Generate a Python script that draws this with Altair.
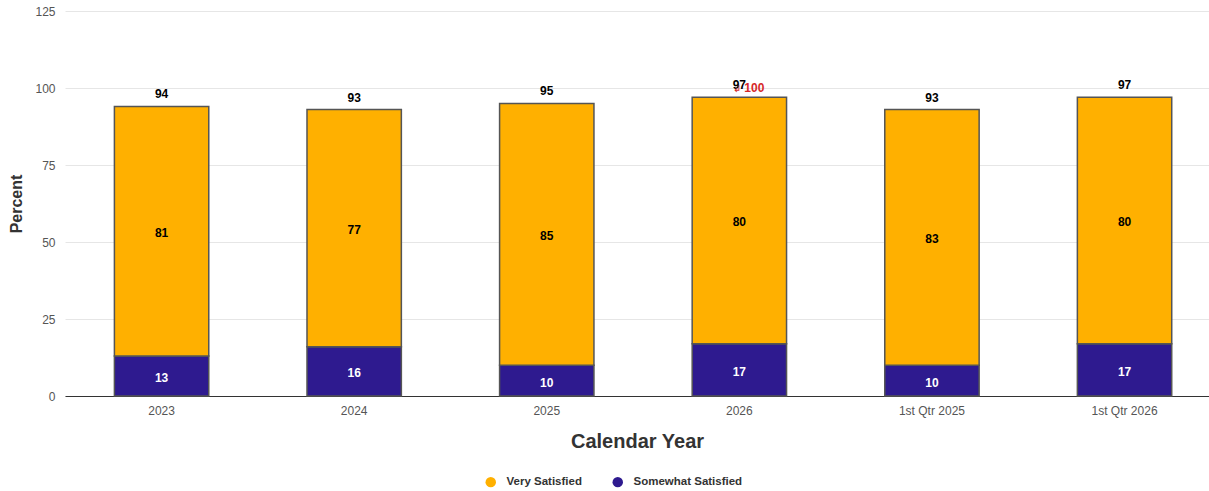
import altair as alt
import pandas as pd

categories = ["2023", "2024", "2025", "2026", "1st Qtr 2025", "1st Qtr 2026"]
very_satisfied = [81, 77, 85, 80, 83, 80]
somewhat_satisfied = [13, 16, 10, 17, 10, 17]
series_names = ["Very Satisfied", "Somewhat Satisfied"]
series_colors = ["#FFB000", "#2E1A8F"]
target_category = ["2026"]
target_value = [100]

rows = []
for c, v, s in zip(categories, very_satisfied, somewhat_satisfied):
    rows.append({"cat": c, "series": "Somewhat Satisfied", "value": s, "ord": 0})
    rows.append({"cat": c, "series": "Very Satisfied", "value": v, "ord": 1})
df = pd.DataFrame(rows)

totals = pd.DataFrame({
    "cat": categories,
    "total": [v + s for v, s in zip(very_satisfied, somewhat_satisfied)],
})
target = pd.DataFrame({"cat": target_category, "value": target_value})

FONT = "Liberation Sans"

xscale = alt.Scale(domain=categories, paddingInner=0.51, paddingOuter=0.225, align=0.57)
yscale = alt.Scale(domain=[0, 125])

x_enc = alt.X(
    "cat:N", scale=xscale, sort=categories,
    axis=alt.Axis(
        title="Calendar Year", labelAngle=0, ticks=False, domainColor="#333333",
        domainWidth=1, labelColor="#555555", labelFontSize=12, labelPadding=9,
        titleFontSize=20, titleFontWeight="bold", titleColor="#333333", titlePadding=15,
        labelFont=FONT, titleFont=FONT,
    ),
)

base = alt.Chart(df).transform_stack(
    stack="value", groupby=["cat"], as_=["y0", "y1"],
    sort=[alt.SortField("ord", order="ascending")],
).transform_calculate(mid="(datum.y0 + datum.y1) / 2")

bars = base.mark_bar(stroke="#555555", strokeWidth=1.5).encode(
    x=x_enc,
    y=alt.Y(
        "y0:Q", scale=yscale,
        axis=alt.Axis(
            title="Percent", values=[0, 25, 50, 75, 100, 125], grid=True,
            gridColor="#e6e6e6", domain=False, ticks=False, labelColor="#555555",
            labelFontSize=12, labelPadding=10, titleFontSize=16, titleFontWeight="bold",
            titleColor="#333333", titlePadding=10, labelFont=FONT, titleFont=FONT,
        ),
    ),
    y2="y1:Q",
    color=alt.Color(
        "series:N",
        scale=alt.Scale(domain=series_names, range=series_colors),
        legend=alt.Legend(
            title=None, orient="none", direction="horizontal", legendX=420, legendY=465,
            symbolType="circle", symbolSize=110, symbolStrokeWidth=0,
            labelFontSize=11.5, labelFontWeight="bold", labelColor="#333333",
            labelFont=FONT, labelOffset=10, columnPadding=30,
        ),
    ),
)

seg_labels = base.mark_text(fontWeight="bold", fontSize=12, font=FONT, baseline="middle", dy=2).encode(
    x=alt.X("cat:N", scale=xscale, sort=categories),
    y=alt.Y("mid:Q", scale=yscale),
    text=alt.Text("value:Q"),
    color=alt.Color(
        "series:N",
        scale=alt.Scale(domain=series_names, range=["#000000", "#ffffff"]),
        legend=None,
    ),
)

total_labels = alt.Chart(totals).mark_text(
    fontWeight="bold", fontSize=12, font=FONT, baseline="bottom", dy=-5, color="#000000"
).encode(
    x=alt.X("cat:N", scale=xscale, sort=categories),
    y=alt.Y("total:Q", scale=yscale),
    text=alt.Text("total:Q"),
)

target_text = alt.Chart(target).mark_text(
    fontWeight="bold", fontSize=12, font=FONT, baseline="middle", align="left",
    dx=5, color="#d62728",
).encode(
    x=alt.X("cat:N", scale=xscale, sort=categories),
    y=alt.Y("value:Q", scale=yscale),
    text=alt.Text("value:Q"),
)

target_arrow = alt.Chart(target).mark_text(
    fontSize=10, font="DejaVu Sans", baseline="middle", align="center",
    dx=-2, dy=1, color="#d62728",
).encode(
    x=alt.X("cat:N", scale=xscale, sort=categories),
    y=alt.Y("value:Q", scale=yscale),
    text=alt.value("↲"),
)

chart = alt.layer(bars, seg_labels, total_labels, target_text, target_arrow).resolve_scale(
    color="independent"
).properties(
    width=1144, height=385,
    autosize=alt.AutoSizeParams(type="none"),
    padding={"left": 65, "top": 11, "right": 0, "bottom": 95},
    background="white",
).configure_view(stroke=None)

chart.save("out.html", embed_options={"renderer": "svg", "actions": False})
